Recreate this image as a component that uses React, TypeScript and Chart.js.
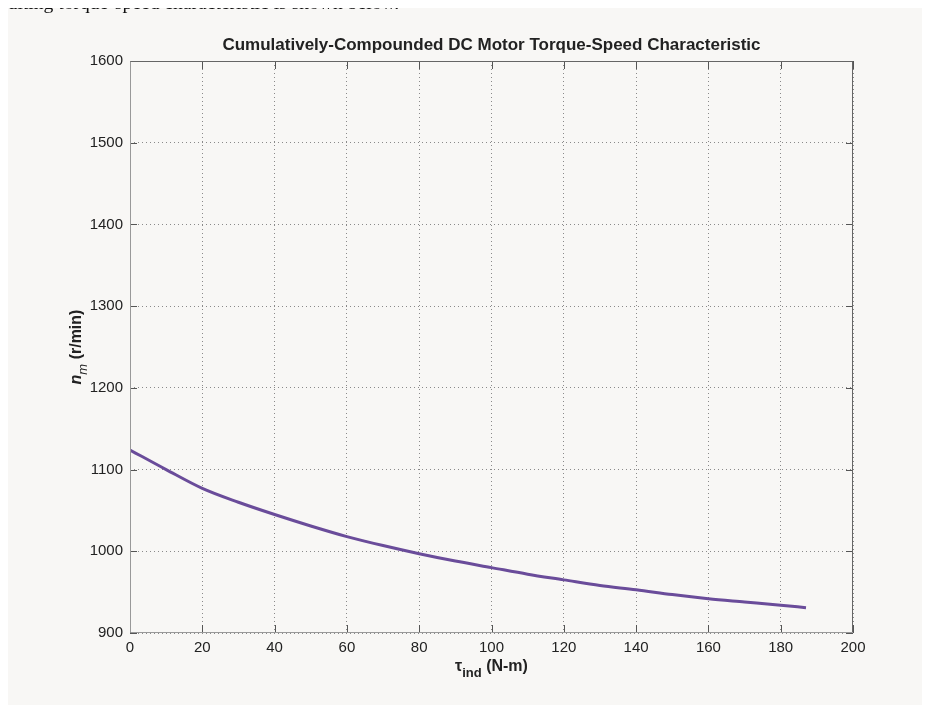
import { useEffect, useRef } from "react";
import { Chart, registerables } from "chart.js";

Chart.register(...registerables);

const titleText = "Cumulatively-Compounded DC Motor Torque-Speed Characteristic";
const introText = "sulting torque-speed characteristic is shown below.";

const torque = [0, 10, 20, 30, 40, 50, 60, 70, 80, 90, 100, 110, 120, 130, 140, 150, 160, 170, 180, 187];
const speed = [1124, 1100, 1077, 1060, 1045, 1031, 1018, 1007, 997, 988, 980, 972, 965, 958, 953, 947, 942, 938, 934, 931];

const xTicks = [0, 20, 40, 60, 80, 100, 120, 140, 160, 180, 200];
const yTicks = [900, 1000, 1100, 1200, 1300, 1400, 1500, 1600];

const FONT = "'Liberation Sans', Arial, Helvetica, sans-serif";

const framePlugin = {
  id: "matlabFrame",
  afterDraw(chart: any) {
    const { ctx, chartArea: a, scales } = chart;
    const xs = scales.x;
    const ys = scales.y;
    ctx.save();
    // inward tick marks
    ctx.lineWidth = 1;
    ctx.strokeStyle = "#555";
    ctx.beginPath();
    xTicks.forEach((v) => {
      const px = Math.round(xs.getPixelForValue(v)) + 0.5;
      ctx.moveTo(px, a.bottom);
      ctx.lineTo(px, a.bottom - 8);
      ctx.moveTo(px, a.top);
      ctx.lineTo(px, a.top + 8);
    });
    yTicks.forEach((v) => {
      const py = Math.round(ys.getPixelForValue(v)) + 0.5;
      ctx.moveTo(a.left, py);
      ctx.lineTo(a.left + 7, py);
      ctx.moveTo(a.right, py);
      ctx.lineTo(a.right - 7, py);
    });
    ctx.stroke();
    // box
    const L = Math.round(a.left) + 0.5;
    const R = Math.round(a.right) - 0.5;
    const T = Math.round(a.top) + 0.5;
    const B = Math.round(a.bottom) - 0.5;
    ctx.strokeStyle = "#666";
    ctx.beginPath();
    ctx.moveTo(L, T);
    ctx.lineTo(R, T);
    ctx.lineTo(R, B);
    ctx.stroke();
    ctx.strokeStyle = "#999";
    ctx.beginPath();
    ctx.moveTo(L, T);
    ctx.lineTo(L, B);
    ctx.lineTo(R, B);
    ctx.stroke();

    const cx = (a.left + a.right) / 2;
    const cy = (a.top + a.bottom) / 2;
    ctx.fillStyle = "#222";
    ctx.textBaseline = "alphabetic";

    // title
    ctx.font = `bold 17px ${FONT}`;
    ctx.textAlign = "center";
    ctx.fillText(titleText, cx, a.top - 11);

    // x label: tau_ind (N-m)
    ctx.textAlign = "left";
    const mainFont = `bold 16px ${FONT}`;
    const subFont = `bold 13px ${FONT}`;
    ctx.font = mainFont;
    const wTau = ctx.measureText("\u03c4").width;
    const wRest = ctx.measureText(" (N-m)").width;
    ctx.font = subFont;
    const wInd = ctx.measureText("ind").width;
    const total = wTau + wInd + wRest;
    const x0 = cx - total / 2;
    const by = a.bottom + 38;
    ctx.font = mainFont;
    ctx.fillText("\u03c4", x0, by);
    ctx.font = subFont;
    ctx.fillText("ind", x0 + wTau, by + 6);
    ctx.font = mainFont;
    ctx.fillText(" (N-m)", x0 + wTau + wInd, by);

    // y label: n_m (r/min)
    ctx.translate(a.left - 49, cy);
    ctx.rotate(-Math.PI / 2);
    const nFont = `italic bold 16px ${FONT}`;
    const mFont = `italic 13px ${FONT}`;
    ctx.font = nFont;
    const wn = ctx.measureText("n").width;
    ctx.font = mFont;
    const wm = ctx.measureText("m").width;
    ctx.font = mainFont;
    const wr = ctx.measureText(" (r/min)").width;
    const tot2 = wn + wm + wr;
    const y0 = -tot2 / 2;
    ctx.font = nFont;
    ctx.fillText("n", y0, 0);
    ctx.font = mFont;
    ctx.fillText("m", y0 + wn, 6);
    ctx.font = mainFont;
    ctx.fillText(" (r/min)", y0 + wn + wm, 0);
    ctx.restore();
  },
};

export default function App() {
  const ref = useRef<HTMLCanvasElement | null>(null);
  useEffect(() => {
    if (!ref.current) return;
    const chart = new Chart(ref.current, {
      type: "line",
      data: {
        datasets: [
          {
            data: torque.map((t, i) => ({ x: t, y: speed[i] })),
            borderColor: "#6a4c9a",
            borderWidth: 3,
            pointRadius: 0,
            cubicInterpolationMode: "monotone",
            fill: false,
          },
        ],
      },
      options: {
        responsive: false,
        animation: false,
        events: [],
        layout: { padding: { left: 0, top: 53, right: 77, bottom: 0 } },
        plugins: { legend: { display: false }, title: { display: false }, tooltip: { enabled: false } },
        scales: {
          x: {
            type: "linear",
            min: 0,
            max: 200,
            afterFit: (s: any) => {
              s.height = 72;
            },
            afterBuildTicks: (s: any) => {
              s.ticks = xTicks.map((v) => ({ value: v }));
            },
            grid: { color: "#8a8a8a", drawTicks: false, lineWidth: 1 },
            border: { display: false, dash: [1, 3] },
            ticks: {
              color: "#222",
              font: { family: FONT, size: 15 },
              padding: 6,
              maxRotation: 0,
              callback: (v: any) => String(v),
            },
          },
          y: {
            type: "linear",
            min: 900,
            max: 1600,
            afterFit: (s: any) => {
              s.width = 122;
            },
            afterBuildTicks: (s: any) => {
              s.ticks = yTicks.map((v) => ({ value: v }));
            },
            grid: { color: "#8a8a8a", drawTicks: false, lineWidth: 1 },
            border: { display: false, dash: [1, 3] },
            ticks: {
              color: "#222",
              font: { family: FONT, size: 15 },
              padding: 7,
              callback: (v: any) => String(v),
            },
          },
        },
      },
      plugins: [framePlugin],
    });
    return () => chart.destroy();
  }, []);

  return (
    <div style={{ position: "relative", width: 922, height: 697 }}>
      <div
        style={{
          position: "absolute",
          left: -8,
          top: -17,
          fontFamily: "'Liberation Serif', 'Times New Roman', serif",
          fontSize: 19.6,
          lineHeight: "24px",
          color: "#111",
          whiteSpace: "nowrap",
          zIndex: 2,
        }}
      >
        {introText}
      </div>
      <div style={{ position: "absolute", left: 0, top: 0, width: 922, height: 697, background: "#f8f7f5", zIndex: 1 }}>
        <canvas ref={ref} width={922} height={697} style={{ display: "block" }} />
      </div>
    </div>
  );
}
